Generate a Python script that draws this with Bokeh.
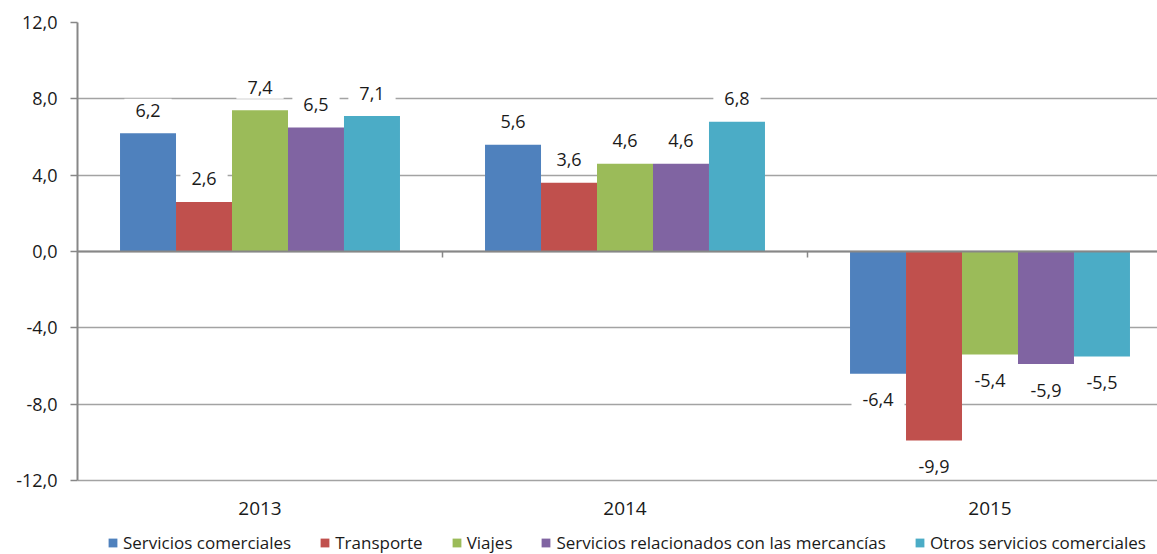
from bokeh.plotting import figure
from bokeh.models import ColumnDataSource, Range1d, FixedTicker, LinearAxis, Legend, LegendItem
from bokeh.transform import dodge
from bokeh.core.properties import value
from bokeh.embed import file_html
from bokeh.resources import INLINE

# ---- data ----
years = ["2013", "2014", "2015"]
series_names = [
    "Servicios comerciales",
    "Transporte",
    "Viajes",
    "Servicios relacionados con las mercancías",
    "Otros servicios comerciales",
]
servicios_comerciales = [6.2, 5.6, -6.4]
transporte = [2.6, 3.6, -9.9]
viajes = [7.4, 4.6, -5.4]
servicios_mercancias = [6.5, 4.6, -5.9]
otros_servicios = [7.1, 6.8, -5.5]
series_values = [servicios_comerciales, transporte, viajes, servicios_mercancias, otros_servicios]
colors = ["#4F81BD", "#C0504D", "#9BBB59", "#8064A2", "#4BACC6"]

y_ticks = [-12, -8, -4, 0, 4, 8, 12]
y_tick_labels = ["-12,0", "-8,0", "-4,0", "0,0", "4,0", "8,0", "12,0"]

FONT = "Open Sans"
TXT = "#1a1a1a"
GRID = "#a3a3a3"
AXIS = "#878787"

W, H = 1157, 554
LEFT, TOP, PLOT_BOTTOM = 77, 22, 480          # pixel layout of the value area
px_per_unit = (PLOT_BOTTOM - TOP) / (y_ticks[-1] - y_ticks[0])
y_low = y_ticks[0] - (H - PLOT_BOTTOM) / px_per_unit   # room below for labels + legend

x_centers = [i + 0.5 for i in range(len(years))]
bar_w = 0.1534

p = figure(
    width=W, height=H,
    x_range=Range1d(0, (W - LEFT) / 365.0), y_range=Range1d(y_low, y_ticks[-1]),
    output_backend="svg", toolbar_location=None,
    min_border_left=LEFT, min_border_right=0, min_border_top=TOP, min_border_bottom=0,
)
p.outline_line_color = None
p.background_fill_color = "white"
p.xaxis.visible = False
p.xgrid.visible = False

# grid
p.ygrid.ticker = FixedTicker(ticks=y_ticks)
p.ygrid.grid_line_color = GRID
p.ygrid.grid_line_width = 1.5

legend_items = []
n = len(series_names)
for j, (name, vals, col) in enumerate(zip(series_names, series_values, colors)):
    off = (j - (n - 1) / 2) * bar_w
    src = ColumnDataSource(dict(
        x=x_centers,
        top=vals,
        label=[f"{v:.1f}".replace(".", ",") for v in vals],
        yoff=[-23 if v >= 0 else 26 for v in vals],
    ))
    r = p.vbar(x=dodge("x", off), top="top", bottom=0, width=bar_w, source=src,
               fill_color=col, line_color=None)
    legend_items.append(LegendItem(label=name, renderers=[r]))
    p.text(x=dodge("x", off), y="top", text="label", y_offset="yoff", source=src,
           text_font=value(FONT), text_font_size="18px", text_color=TXT,
           text_align="center", text_baseline="middle",
           background_fill_color="white",
           padding=dict(left=11, right=11, top=5, bottom=5))

# category labels under the -12 line
cat_src = ColumnDataSource(dict(x=x_centers, y=[y_ticks[0]] * len(years), t=years))
p.text(x="x", y="y", text="t", source=cat_src, y_offset=28,
       text_font=value(FONT), text_font_size="19px", text_color=TXT,
       text_align="center", text_baseline="middle")

# y axis
p.yaxis.bounds = (y_ticks[0], y_ticks[-1])
p.yaxis.ticker = FixedTicker(ticks=y_ticks)
p.yaxis.major_label_overrides = {t: l for t, l in zip(y_ticks, y_tick_labels)}
p.yaxis.axis_line_color = AXIS
p.yaxis.axis_line_width = 2
p.yaxis.major_tick_line_color = AXIS
p.yaxis.major_tick_line_width = 1.5
p.yaxis.major_tick_out = 7
p.yaxis.major_tick_in = 0
p.yaxis.minor_tick_line_color = None
p.yaxis.major_label_standoff = 13
p.yaxis.major_label_text_font = FONT
p.yaxis.major_label_text_font_size = "18px"
p.yaxis.major_label_text_color = TXT

# zero line axis with category-boundary ticks
boundaries = list(range(1, len(years)))
zero_axis = LinearAxis(
    fixed_location=0,
    ticker=FixedTicker(ticks=boundaries),
    major_label_overrides={b: "" for b in boundaries},
    axis_line_color=AXIS, axis_line_width=2,
    major_tick_line_color=AXIS, major_tick_line_width=1.5,
    major_tick_in=6, major_tick_out=0,
    minor_tick_line_color=None,
    major_label_text_font_size="10px", major_label_standoff=0,
)
p.add_layout(zero_axis, "above")

legend = Legend(
    items=legend_items, orientation="horizontal", location=(30, 0),
    glyph_width=11, glyph_height=11, label_standoff=5, spacing=28,
    padding=0, margin=0, border_line_color=None, background_fill_alpha=0,
    label_text_font=FONT, label_text_font_size="17px", label_text_color=TXT,
)
p.add_layout(legend, "center")

open("out.html", "w").write(file_html(p, INLINE))
